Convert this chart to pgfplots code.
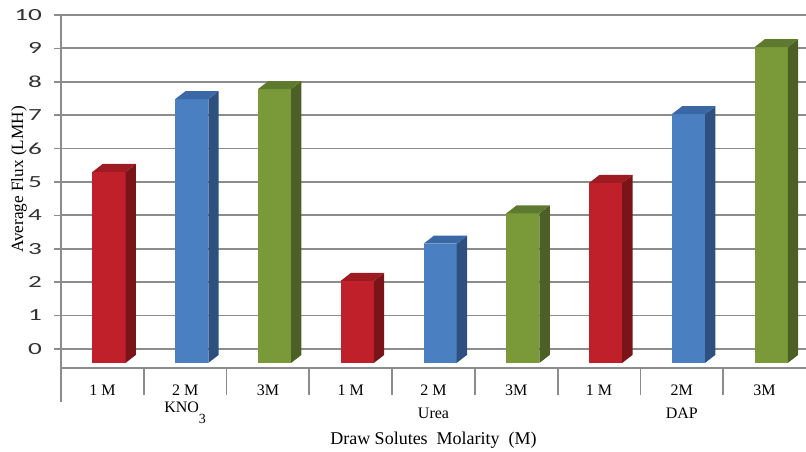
\documentclass[border=0pt]{standalone}
\usepackage{pgfplots}
\usepackage{pgfplotstable}
\pgfplotsset{compat=1.18}
\usepackage{fontspec}
\setmainfont{Liberation Serif}
\newfontfamily\tickfont[FakeStretch=1.6]{Carlito}

% front / side / top shades for the three molarities
\definecolor{front0}{HTML}{C0202A}
\definecolor{side0}{HTML}{7A1419}
\definecolor{top0}{HTML}{9E1B21}
\definecolor{front1}{HTML}{4A80C2}
\definecolor{side1}{HTML}{2E5080}
\definecolor{top1}{HTML}{3A67A6}
\definecolor{front2}{HTML}{7A9A3A}
\definecolor{side2}{HTML}{4C5F25}
\definecolor{top2}{HTML}{5E7A2E}
\definecolor{gridgray}{HTML}{8C8C8C}

% average flux (LMH) per draw solute and molarity
\pgfplotstableread{
x v
0 5.30
1 7.48
2 7.78
3 2.04
4 3.15
5 4.06
6 4.97
7 7.03
8 9.04
}\fluxdata

\begin{document}
\begin{tikzpicture}
\begin{axis}[
  x=41.4pt, y=16.7pt,
  xmin=-0.5, xmax=8.5,
  ymin=-0.57, ymax=10,
  axis lines=left,
  axis line style={-, draw=gridgray, line width=0.9pt},
  ytick={0,...,10},
  ymajorgrids,
  major grid style={draw=gridgray, line width=0.9pt},
  y tick style={draw=gridgray, line width=0.8pt},
  tick align=outside,
  major tick length=3.5pt,
  yticklabel style={font=\tickfont\fontsize{8.5}{10}\selectfont, text=black!80, xshift=-2.5pt},
  /pgf/number format/assume math mode=true,
  xtick={0,...,8},
  xticklabels={1 M,2 M,3M,1 M,2 M,3M,1 M,2M,3M},
  x tick style={draw=none},
  xticklabel style={anchor=center, yshift=-7.5pt, font=\fontsize{8}{10}\selectfont},
  clip=false,
]
\def\dx{0.125}
\def\dy{0.24}
\def\base{-0.42}
\pgfplotsinvokeforeach{0,...,8}{
  \pgfplotstablegetelem{#1}{v}\of\fluxdata
  \let\val\pgfplotsretval
  \pgfmathtruncatemacro\k{mod(#1,3)}
  \pgfmathsetmacro\xa{#1-0.12}
  \pgfmathsetmacro\xb{#1+0.28}
  \pgfmathsetmacro\xc{\xb+\dx}
  \pgfmathsetmacro\xd{\xa+\dx}
  \pgfmathsetmacro\ytop{\val+\dy}
  \pgfmathsetmacro\ybase{\base+\dy}
  \edef\drawbar{%
    \noexpand\addplot[fill=front\k, draw=none] coordinates
      {(\xa,\base) (\xb,\base) (\xb,\val) (\xa,\val)} -- cycle;
    \noexpand\addplot[fill=side\k, draw=none] coordinates
      {(\xb,\base) (\xc,\ybase) (\xc,\ytop) (\xb,\val)} -- cycle;
    \noexpand\addplot[fill=top\k, draw=none] coordinates
      {(\xa,\val) (\xb,\val) (\xc,\ytop) (\xd,\ytop)} -- cycle;
  }
  \drawbar
}
% category separators below the axis
\pgfplotsinvokeforeach{0.5,1.5,2.5,3.5,4.5,5.5,6.5,7.5}{
  \draw[gridgray, line width=0.9pt] (axis cs:#1,-0.57) -- ++(0pt,-13.5pt);
}
\draw[gridgray, line width=0.9pt] (axis cs:-0.5,-0.57) -- ++(0pt,-17pt);
% draw solute groups
\node[font=\fontsize{8}{10}\selectfont] at ([yshift=-22.5pt]axis cs:1,-0.57) {KNO\raisebox{-0.65em}{\fontsize{7}{8}\selectfont 3}};
\node[font=\fontsize{8}{10}\selectfont] at ([yshift=-22.5pt]axis cs:4,-0.57) {Urea};
\node[font=\fontsize{8}{10}\selectfont] at ([yshift=-22.5pt]axis cs:7,-0.57) {DAP};
% axis titles
\node[font=\fontsize{9}{11}\selectfont] at ([yshift=-36pt]rel axis cs:0.5,0) {Draw Solutes\ \ Molarity\ \ (M)};
\node[font=\fontsize{8.6}{10}\selectfont, rotate=90] at ([xshift=-21pt,yshift=6pt]rel axis cs:0,0.5) {Average Flux (LMH)};
\coordinate (bl) at (rel axis cs:0,0);
\coordinate (tr) at (rel axis cs:1,1);
\end{axis}
\pgfresetboundingbox
\path[use as bounding box] ([xshift=-30.5pt,yshift=-42pt]bl) rectangle ([yshift=7.5pt]tr);
\end{tikzpicture}
\end{document}
